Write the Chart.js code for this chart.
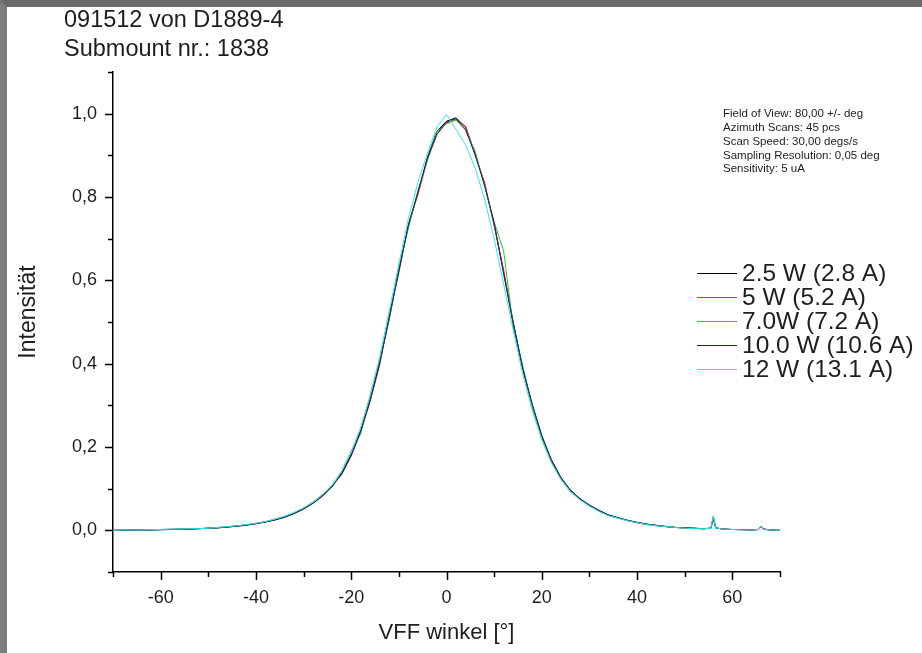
<!DOCTYPE html>
<html>
<head>
<meta charset="utf-8">
<script src="https://cdn.jsdelivr.net/npm/chart.js@4/dist/chart.umd.min.js"></script>
<style>
  html, body { margin: 0; padding: 0; background: #fff; }
  #frame {
    position: absolute; left: 0; top: 0; width: 922px; height: 653px;
    box-sizing: border-box; background: #fff;
    border-left: 7px solid #7d7d7d; border-top: 7px solid #6a6a6a;
  }
  canvas { display: block; }
</style>
</head>
<body>
<div id="frame"><canvas id="c" width="915" height="646"></canvas></div>
<script>
// Far-field scan angle in degrees
const angles = [
  -70, -68, -66, -64, -62, -60, -58, -56, -54, -52,
  -50, -48, -46, -44, -42, -40, -38, -36, -34, -32,
  -30, -28, -26, -24, -22, -20, -18, -16, -14, -12,
  -10, -8, -6, -4, -2, 0, 2, 4, 6, 8,
  10, 12, 14, 16, 18, 20, 22, 24, 26, 28,
  30, 32, 34, 36, 38, 40, 42, 44, 46, 48,
  50, 52, 54, 55.5, 56, 56.5, 58, 60, 62, 64,
  65.5, 66, 66.5, 68, 70
];

// Normalised intensity per drive power
const power2_5W = [
  0.000, 0.000, 0.001, 0.001, 0.001, 0.002, 0.002, 0.003, 0.003, 0.004,
  0.005, 0.006, 0.008, 0.010, 0.013, 0.016, 0.020, 0.025, 0.032, 0.041,
  0.052, 0.066, 0.083, 0.106, 0.138, 0.182, 0.240, 0.315, 0.405, 0.510,
  0.625, 0.730, 0.810, 0.895, 0.958, 0.982, 0.990, 0.968, 0.905, 0.830,
  0.735, 0.620, 0.500, 0.390, 0.300, 0.225, 0.168, 0.126, 0.096, 0.075,
  0.060, 0.047, 0.037, 0.030, 0.024, 0.019, 0.015, 0.012, 0.009, 0.007,
  0.006, 0.005, 0.004, 0.005, 0.028, 0.006, 0.003, 0.002, 0.002, 0.001,
  0.002, 0.008, 0.003, 0.001, 0.000
];
const power5W = [
  0.000, 0.001, 0.001, 0.001, 0.002, 0.002, 0.002, 0.003, 0.003, 0.004,
  0.005, 0.007, 0.008, 0.011, 0.013, 0.017, 0.021, 0.026, 0.033, 0.042,
  0.053, 0.068, 0.085, 0.108, 0.134, 0.178, 0.236, 0.310, 0.398, 0.518,
  0.618, 0.735, 0.805, 0.890, 0.950, 0.978, 0.985, 0.970, 0.900, 0.835,
  0.730, 0.625, 0.495, 0.385, 0.296, 0.221, 0.165, 0.124, 0.094, 0.074,
  0.059, 0.046, 0.036, 0.029, 0.023, 0.018, 0.014, 0.011, 0.009, 0.007,
  0.005, 0.004, 0.004, 0.005, 0.030, 0.005, 0.003, 0.002, 0.001, 0.001,
  0.002, 0.009, 0.002, 0.001, 0.000
];
const power7W = [
  0.001, 0.000, 0.001, 0.001, 0.001, 0.002, 0.003, 0.003, 0.004, 0.004,
  0.005, 0.006, 0.009, 0.010, 0.014, 0.016, 0.021, 0.027, 0.033, 0.040,
  0.051, 0.065, 0.087, 0.104, 0.142, 0.190, 0.232, 0.326, 0.410, 0.505,
  0.632, 0.725, 0.815, 0.888, 0.958, 0.975, 0.985, 0.960, 0.910, 0.825,
  0.740, 0.670, 0.488, 0.395, 0.296, 0.219, 0.170, 0.128, 0.092, 0.077,
  0.058, 0.048, 0.036, 0.031, 0.024, 0.019, 0.014, 0.012, 0.010, 0.007,
  0.006, 0.005, 0.003, 0.006, 0.033, 0.006, 0.003, 0.002, 0.002, 0.001,
  0.002, 0.010, 0.003, 0.001, 0.000
];
const power10W = [
  0.000, 0.000, 0.001, 0.001, 0.001, 0.001, 0.002, 0.002, 0.003, 0.004,
  0.005, 0.006, 0.008, 0.010, 0.012, 0.016, 0.020, 0.025, 0.031, 0.040,
  0.051, 0.065, 0.082, 0.105, 0.135, 0.180, 0.238, 0.313, 0.402, 0.512,
  0.622, 0.733, 0.812, 0.893, 0.952, 0.980, 0.988, 0.962, 0.902, 0.828,
  0.738, 0.615, 0.497, 0.388, 0.303, 0.228, 0.170, 0.127, 0.097, 0.076,
  0.061, 0.048, 0.037, 0.030, 0.024, 0.019, 0.015, 0.012, 0.009, 0.007,
  0.006, 0.005, 0.004, 0.005, 0.032, 0.006, 0.003, 0.002, 0.002, 0.001,
  0.002, 0.009, 0.003, 0.001, 0.000
];
const power12W = [
  0.000, 0.001, 0.001, 0.001, 0.002, 0.002, 0.003, 0.003, 0.004, 0.004,
  0.005, 0.007, 0.009, 0.011, 0.014, 0.017, 0.021, 0.027, 0.034, 0.043,
  0.054, 0.068, 0.086, 0.109, 0.142, 0.188, 0.248, 0.324, 0.418, 0.528,
  0.640, 0.748, 0.835, 0.905, 0.968, 0.998, 0.962, 0.925, 0.870, 0.795,
  0.700, 0.590, 0.480, 0.375, 0.288, 0.217, 0.162, 0.122, 0.093, 0.073,
  0.058, 0.045, 0.035, 0.029, 0.023, 0.018, 0.014, 0.011, 0.009, 0.007,
  0.005, 0.004, 0.004, 0.005, 0.035, 0.006, 0.003, 0.002, 0.001, 0.001,
  0.002, 0.009, 0.002, 0.001, 0.000
];

const seriesLabels = ['2.5 W (2.8 A)', '5 W (5.2 A)', '7.0W (7.2 A)', '10.0 W (10.6 A)', '12 W (13.1 A)'];
const seriesValues = [power2_5W, power5W, power7W, power10W, power12W];
const seriesColors = ['#000000', '#ff2020', '#20d020', '#1c1c80', '#30e8e8'];

// Axis ticks: every value gets a tick mark, labelled ones get a longer mark and text
const xTickValues = [-70, -60, -50, -40, -30, -20, -10, 0, 10, 20, 30, 40, 50, 60, 70];
const xLabelValues = [-60, -40, -20, 0, 20, 40, 60];
const yTickValues = [-0.1, 0, 0.1, 0.2, 0.3, 0.4, 0.5, 0.6, 0.7, 0.8, 0.9, 1.0, 1.1];
const yLabelValues = [0, 0.2, 0.4, 0.6, 0.8, 1.0];

const titleLines = ['091512 von D1889-4', 'Submount nr.: 1838'];
const infoLines = [
  'Field of View: 80,00 +/- deg',
  'Azimuth Scans: 45 pcs',
  'Scan Speed: 30,00 degs/s',
  'Sampling Resolution: 0,05 deg',
  'Sensitivity: 5 uA'
];
const xAxisTitle = 'VFF winkel [°]';
const yAxisTitle = 'Intensität';

const FONT = '"Liberation Sans", Arial, sans-serif';
const TEXT = '#1e1e1e';

const isLabelled = (v, list) => list.some(l => Math.abs(l - v) < 1e-6);

const datasets = seriesLabels.map((label, i) => ({
  label,
  data: angles.map((a, k) => ({ x: a, y: seriesValues[i][k] })),
  borderColor: seriesColors[i],
  borderWidth: 1,
  pointRadius: 0,
  tension: 0,
  fill: false,
  order: seriesLabels.length - i
}));

// Tick marks, titles, legend and measurement notes
const decorations = {
  id: 'decorations',
  afterDraw(chart) {
    const { ctx, scales: { x, y } } = chart;
    const axisX = x.getPixelForValue(-70);
    const axisY = y.getPixelForValue(-0.1);
    ctx.save();
    ctx.strokeStyle = '#000';
    ctx.lineWidth = 1.5;
    ctx.beginPath();
    xTickValues.forEach(v => {
      const px = Math.round(x.getPixelForValue(v)) + 0.5;
      const len = isLabelled(v, xLabelValues) ? 8 : 5;
      ctx.moveTo(px, axisY);
      ctx.lineTo(px, axisY + len);
    });
    yTickValues.forEach(v => {
      const py = Math.round(y.getPixelForValue(v)) + 0.5;
      const len = isLabelled(v, yLabelValues) ? 8 : 5;
      ctx.moveTo(axisX, py);
      ctx.lineTo(axisX - len, py);
    });
    ctx.stroke();

    ctx.fillStyle = TEXT;
    ctx.textAlign = 'left';
    ctx.textBaseline = 'alphabetic';
    ctx.font = '23.5px ' + FONT;
    titleLines.forEach((t, i) => ctx.fillText(t, 57, 20 + i * 29));

    ctx.textAlign = 'center';
    ctx.textBaseline = 'middle';
    ctx.font = '22px ' + FONT;
    ctx.fillText(xAxisTitle, (x.left + x.right) / 2, 626);
    ctx.save();
    ctx.translate(22, 305);
    ctx.rotate(-Math.PI / 2);
    ctx.font = '23px ' + FONT;
    ctx.fillText(yAxisTitle, 0, 0);
    ctx.restore();

    ctx.textAlign = 'left';
    ctx.font = '11.5px ' + FONT;
    infoLines.forEach((t, i) => ctx.fillText(t, 716, 107 + i * 13.8));

    // Legend: short coloured sample line followed by the series label
    ctx.font = '24.5px ' + FONT;
    chart.data.datasets.forEach((ds, i) => {
      const ly = Math.round(266 + i * 24);
      ctx.strokeStyle = ds.borderColor;
      ctx.lineWidth = 1.2;
      ctx.beginPath();
      ctx.moveTo(690, ly + 0.5);
      ctx.lineTo(730, ly + 0.5);
      ctx.stroke();
      ctx.fillStyle = TEXT;
      ctx.fillText(ds.label, 735, ly + 1);
    });
    ctx.restore();
  }
};

new Chart(document.getElementById('c'), {
  type: 'line',
  data: { datasets },
  options: {
    responsive: false,
    animation: false,
    devicePixelRatio: 1,
    layout: { padding: { top: 65, right: 142, left: 0, bottom: 0 } },
    plugins: { legend: { display: false }, title: { display: false }, tooltip: { enabled: false } },
    scales: {
      x: {
        type: 'linear',
        min: -70, max: 70,
        grid: { drawOnChartArea: false, drawTicks: false },
        border: { color: '#000', width: 1.5 },
        ticks: {
          stepSize: 10, autoSkip: false, maxRotation: 0, padding: 15,
          color: TEXT, font: { family: FONT, size: 18 },
          callback: v => isLabelled(v, xLabelValues) ? String(v) : ''
        },
        afterFit: s => { s.height = 81; }
      },
      y: {
        min: -0.1, max: 1.1,
        grid: { drawOnChartArea: false, drawTicks: false },
        border: { color: '#000', width: 1.5 },
        ticks: {
          stepSize: 0.1, autoSkip: false, padding: 16,
          color: TEXT, font: { family: FONT, size: 18 },
          callback: v => isLabelled(v, yLabelValues) ? v.toFixed(1).replace('.', ',') : ''
        },
        afterFit: s => { s.width = 106; }
      }
    }
  },
  plugins: [decorations]
});
</script>
</body>
</html>
